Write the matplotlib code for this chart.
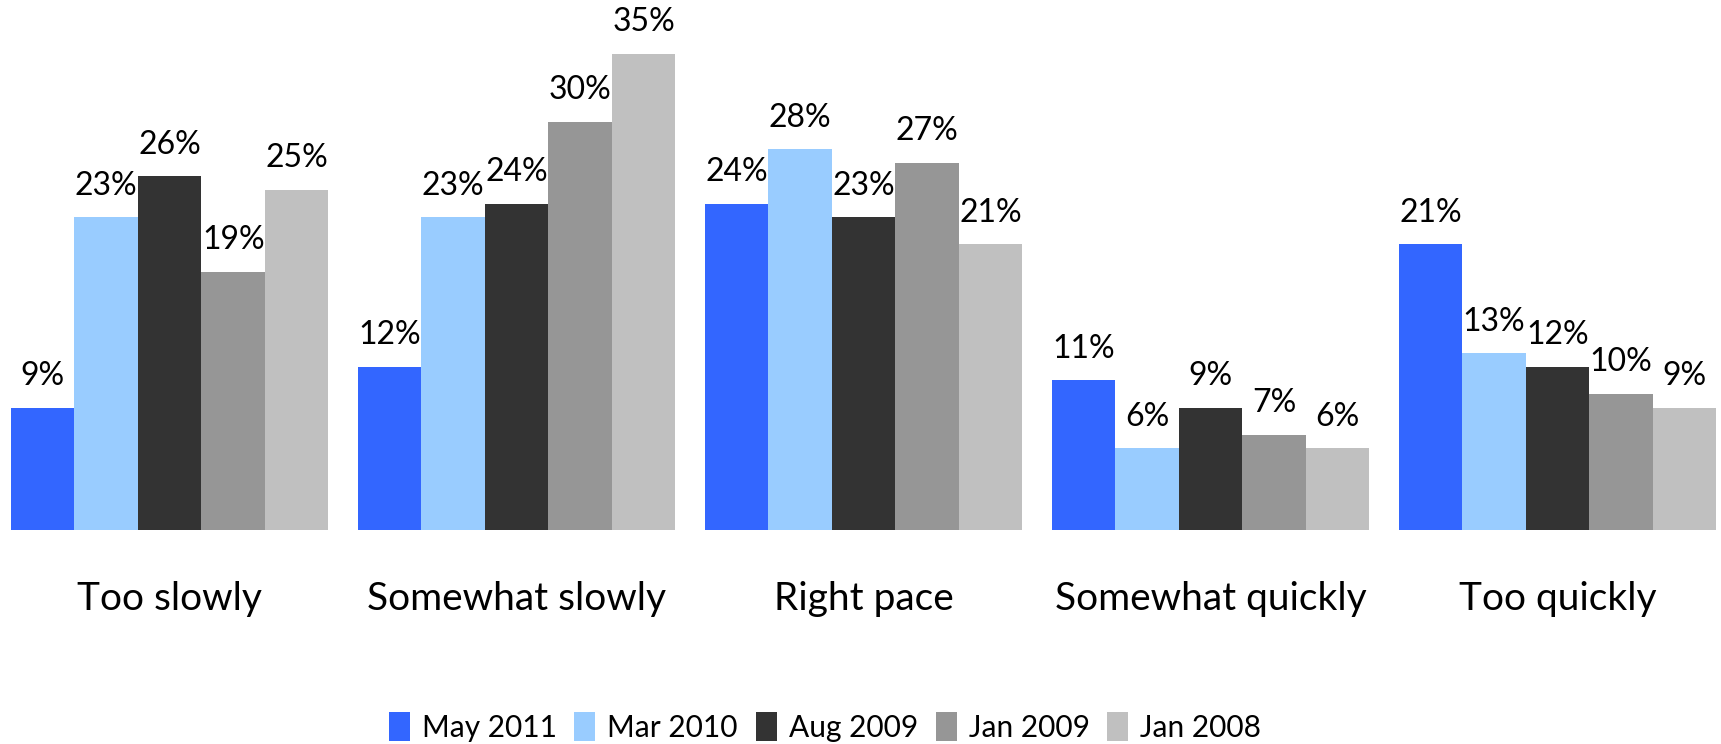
import matplotlib
matplotlib.use("Agg")
import matplotlib.pyplot as plt
import numpy as np

categories = ["Too slowly", "Somewhat slowly", "Right pace", "Somewhat quickly", "Too quickly"]
series_names = ["May 2011", "Mar 2010", "Aug 2009", "Jan 2009", "Jan 2008"]
may_2011 = [9, 12, 24, 11, 21]
mar_2010 = [23, 23, 28, 6, 13]
aug_2009 = [26, 24, 23, 9, 12]
jan_2009 = [19, 30, 27, 7, 10]
jan_2008 = [25, 35, 21, 6, 9]
series_values = [may_2011, mar_2010, aug_2009, jan_2009, jan_2008]
colors = ["#3366FF", "#99CCFF", "#333333", "#969696", "#C0C0C0"]

plt.rcParams['font.family'] = ['Lato', 'DejaVu Sans']

W, H = 1721, 744
fig = plt.figure(figsize=(W / 100, H / 100), dpi=100)
bottom = 1 - 530 / H
top35 = 1 - 54 / H
ymax = 38
ax_top = bottom + (top35 - bottom) * ymax / 35
left = 11 / W
right = 1716 / W
ax = fig.add_axes([left, bottom, right - left, ax_top - bottom])

x = np.arange(len(categories))
w = 0.183
handles = []
for i, (vals, c, name) in enumerate(zip(series_values, colors, series_names)):
    bars = ax.bar(x + (i - 2) * w, vals, width=w, color=c, label=name, linewidth=0)
    ax.bar_label(bars, labels=[f"{v}%" for v in vals], padding=12, fontsize=23, color="#000000")
    handles.append(bars)

ax.set_xlim(-2.5 * w, 4 + 2.5 * w)
ax.set_ylim(0, ymax)
ax.set_yticks([])
ax.set_xticks(x)
ax.set_xticklabels(categories, fontsize=28)
ax.tick_params(axis='x', length=0, pad=37)
for s in ax.spines.values():
    s.set_visible(False)

leg = fig.legend(handles=handles, labels=series_names, loc='center', bbox_to_anchor=(825 / W, 1 - 727 / H),
                 ncol=5, frameon=False, fontsize=21.5, handlelength=0.7, handleheight=1.1,
                 handletextpad=0.4, columnspacing=0.6)

fig.savefig("out.png", dpi=100, facecolor="white")
